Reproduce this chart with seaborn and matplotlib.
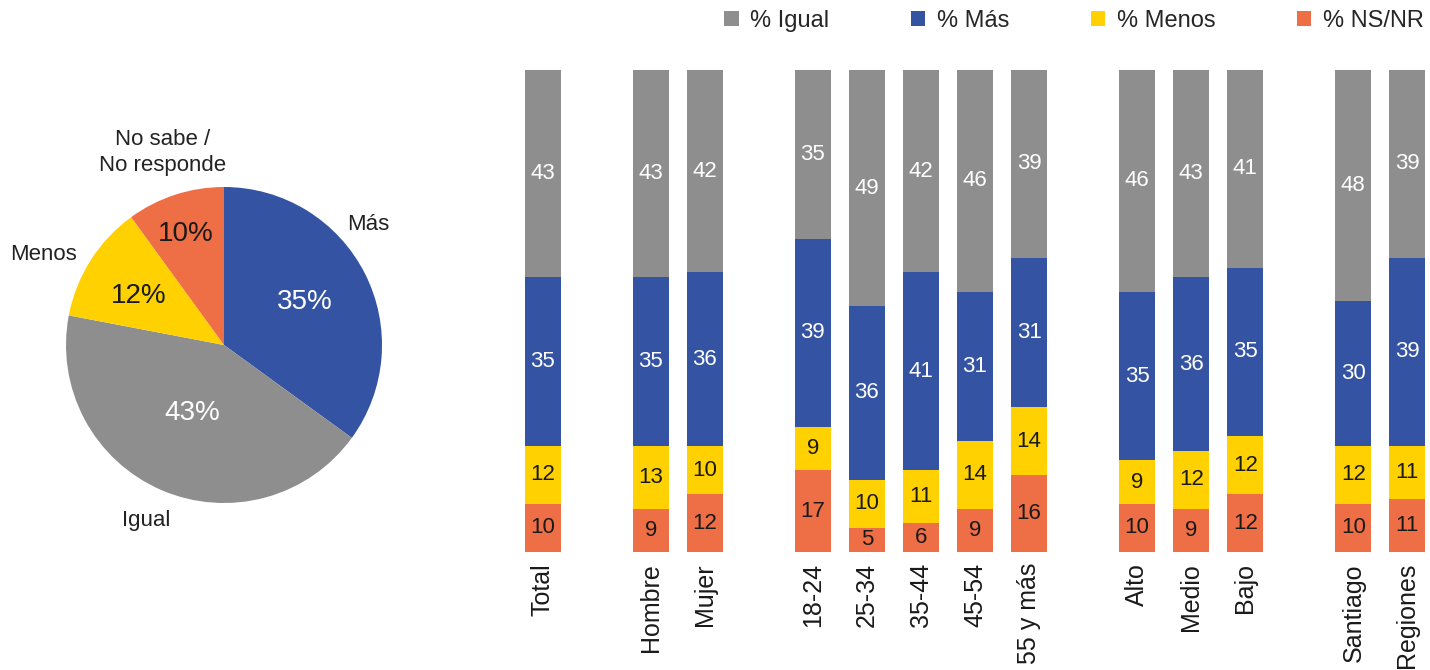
import matplotlib
matplotlib.use("Agg")
import matplotlib.pyplot as plt
import seaborn as sns
import pandas as pd
from matplotlib.patches import Patch

# ---------------- data ----------------
categories = ["Total", "Hombre", "Mujer", "18-24", "25-34", "35-44", "45-54",
              "55 y más", "Alto", "Medio", "Bajo", "Santiago", "Regiones"]
groups = [0, 1, 1, 2, 2, 2, 2, 2, 3, 3, 3, 4, 4]
igual = [43, 43, 42, 35, 49, 42, 46, 39, 46, 43, 41, 48, 39]
mas = [35, 35, 36, 39, 36, 41, 31, 31, 35, 36, 35, 30, 39]
menos = [12, 13, 10, 9, 10, 11, 14, 14, 9, 12, 12, 12, 11]
nsnr = [10, 9, 12, 17, 5, 6, 9, 16, 10, 9, 12, 10, 11]
series_names = ["% Igual", "% Más", "% Menos", "% NS/NR"]

pie_labels = ["Más", "Igual", "Menos", "No sabe /\nNo responde"]
pie_values = [35, 43, 12, 10]

# ---------------- style ----------------
sns.set_style("white")
plt.rcParams["font.family"] = ["Liberation Sans", "DejaVu Sans"]

C_IGUAL = "#8E8E8E"
C_MAS = "#3453A3"
C_MENOS = "#FFD100"
C_NSNR = "#EE6E45"
colors = [C_IGUAL, C_MAS, C_MENOS, C_NSNR]
TXT = "#1a1a1a"

fig = plt.figure(figsize=(14.3, 6.7), dpi=100)

# ---------------- pie ----------------
axp = fig.add_axes([66 / 1430, 167 / 670, 316 / 1430, 316 / 670])
pie_colors = [C_MAS, C_IGUAL, C_MENOS, C_NSNR]
axp.pie(pie_values, colors=pie_colors, startangle=90, counterclock=False,
        radius=1, wedgeprops=dict(linewidth=0))
axp.set_xlim(-1, 1)
axp.set_ylim(-1, 1)
axp.set_aspect("equal")
axp.axis("off")

pct_pos = [(0.51, 0.27), (-0.20, -0.43), (-0.54, 0.31), (-0.24, 0.70)]
pct_col = ["white", "white", TXT, TXT]
for v, (px, py), c in zip(pie_values, pct_pos, pct_col):
    axp.text(px, py, f"{v}%", ha="center", va="center", fontsize=20, color=c)

lab_pos = [(0.91, 0.76), (-0.49, -1.11), (-1.14, 0.57), (-0.39, 1.22)]
for lab, (lx, ly) in zip(pie_labels, lab_pos):
    axp.text(lx, ly, lab, ha="center", va="center", fontsize=16, color="#222222",
             linespacing=1.3)

# ---------------- stacked bars ----------------
order = []
prev = None
gap = 0
for cat, g in zip(categories, groups):
    if prev is not None and g != prev:
        gap += 1
        order.append(" " * gap)
    order.append(cat)
    prev = g

df = pd.DataFrame({"cat": categories, "igual": igual, "mas": mas,
                   "menos": menos, "nsnr": nsnr})
df["l_nsnr"] = df["nsnr"]
df["l_menos"] = df["l_nsnr"] + df["menos"]
df["l_mas"] = df["l_menos"] + df["mas"]
df["l_igual"] = df["l_mas"] + df["igual"]

axb = fig.add_axes([521 / 1430, 1 - 552 / 670, (1429 - 521) / 1430, (552 - 70) / 670])
for col, c in zip(["l_igual", "l_mas", "l_menos", "l_nsnr"], colors):
    sns.barplot(data=df, x="cat", y=col, order=order, color=c, saturation=1,
                width=0.667, errorbar=None, ax=axb, linewidth=0)

for _, row in df.iterrows():
    xi = order.index(row["cat"])
    base = 0
    for key, tc in [("nsnr", TXT), ("menos", TXT), ("mas", "white"), ("igual", "white")]:
        v = row[key]
        axb.text(xi, base + v / 2, f"{v}", ha="center", va="center",
                 fontsize=16, color=tc)
        base += v

axb.set_ylim(0, 100)
axb.set_xlim(-0.4, len(order) - 1 + 0.4)
axb.set_xlabel("")
axb.set_ylabel("")
axb.set_yticks([])
axb.tick_params(axis="x", length=0, pad=8)
axb.set_xticks(range(len(order)))
axb.set_xticklabels(order, rotation=90, fontsize=18, color=TXT, va="top")
sns.despine(ax=axb, left=True, bottom=True)

handles = [Patch(facecolor=c, edgecolor="none") for c in colors]
fig.legend(handles, series_names, loc="center", bbox_to_anchor=(1074 / 1430, 1 - 21 / 670),
           ncol=4, frameon=False, fontsize=17, handlelength=0.6, handleheight=0.6,
           handletextpad=0.5, columnspacing=3.45)

fig.savefig("out.png", dpi=100)
